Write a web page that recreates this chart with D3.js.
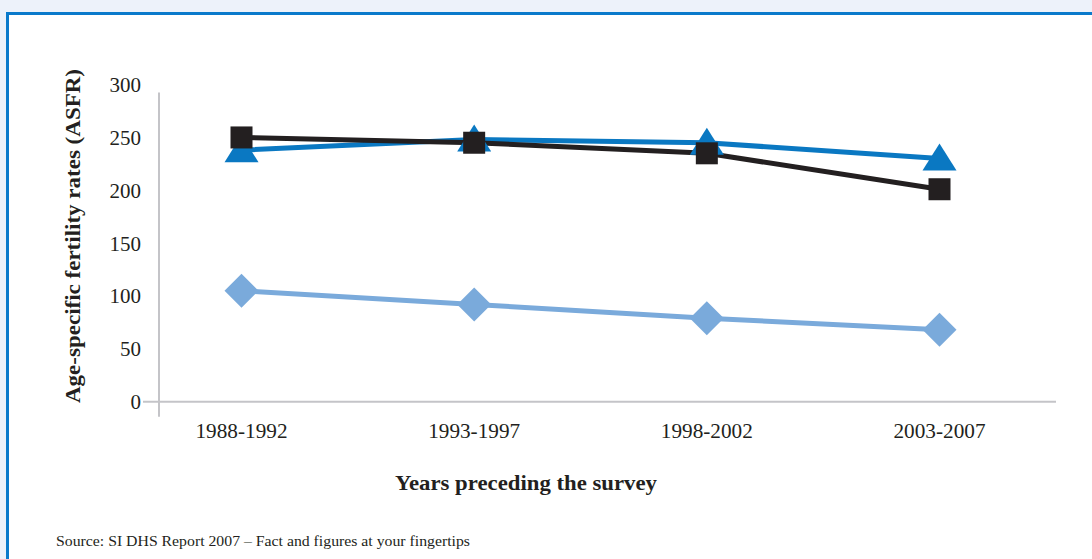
<!DOCTYPE html>
<html>
<head>
<meta charset="utf-8">
<script src="https://cdn.jsdelivr.net/npm/d3@7"></script>
<style>
  html, body { margin: 0; padding: 0; background: #edf2fa; }
  svg { display: block; }
  text { font-family: "Liberation Serif", "DejaVu Serif", serif; fill: #231f20; }
</style>
</head>
<body>
<svg id="chart" width="1092" height="559"></svg>
<script>
// Age-specific fertility rates by period
const periods = ["1988-1992", "1993-1997", "1998-2002", "2003-2007"];
const seriesSquare = [250, 245, 235, 201];
const seriesTriangle = [238, 248, 245, 230];
const seriesDiamond = [105, 92, 79, 68];
const yTicks = [0, 50, 100, 150, 200, 250, 300];

const svg = d3.select("#chart");

// page panel with blue rule on top and left
svg.append("rect").attr("x", 7).attr("y", 13).attr("width", 1092).attr("height", 559).attr("fill", "#ffffff");
svg.append("line").attr("x1", 7.5).attr("x2", 7.5).attr("y1", 12).attr("y2", 559)
  .attr("stroke", "#0a7acb").attr("stroke-width", 3);
svg.append("line").attr("x1", 6).attr("x2", 1092).attr("y1", 13.5).attr("y2", 13.5)
  .attr("stroke", "#0a7acb").attr("stroke-width", 3);

const x = d3.scalePoint().domain(periods).range([241.5, 939.5]);
const y = d3.scaleLinear().domain([0, 300]).range([401.7, 84.6]);

const axisColor = "#c4c4c8";
// vertical axis line
svg.append("line").attr("x1", 159).attr("x2", 159).attr("y1", y(300) + 8).attr("y2", y(0) + 15)
  .attr("stroke", axisColor).attr("stroke-width", 2);
// horizontal axis line (with short tick to the left at 0)
svg.append("line").attr("x1", 143).attr("x2", 1056).attr("y1", y(0)).attr("y2", y(0))
  .attr("stroke", axisColor).attr("stroke-width", 2);

// y tick labels
svg.append("g").selectAll("text").data(yTicks).join("text")
  .attr("x", 141).attr("y", d => y(d)).attr("dy", "0.35em")
  .attr("text-anchor", "end").attr("font-size", 21).attr("fill", "#333")
  .text(d => d);

// x tick labels
svg.append("g").selectAll("text").data(periods).join("text")
  .attr("x", d => x(d)).attr("y", 431).attr("dy", "0.35em")
  .attr("text-anchor", "middle").attr("font-size", 21).attr("fill", "#333")
  .attr("textLength", 92).attr("lengthAdjust", "spacingAndGlyphs")
  .text(d => d);

// axis titles
svg.append("text").attr("transform", "translate(73,236) rotate(-90)")
  .attr("text-anchor", "middle").attr("dy", "0.35em")
  .attr("font-size", 21).attr("font-weight", "bold")
  .attr("textLength", 334).attr("lengthAdjust", "spacingAndGlyphs")
  .text("Age-specific fertility rates (ASFR)");
svg.append("text").attr("x", 526).attr("y", 483).attr("dy", "0.35em")
  .attr("text-anchor", "middle").attr("font-size", 21).attr("font-weight", "bold")
  .attr("textLength", 262).attr("lengthAdjust", "spacingAndGlyphs")
  .text("Years preceding the survey");

// source note
svg.append("text").attr("x", 56).attr("y", 541).attr("dy", "0.35em")
  .attr("font-size", 15).attr("fill", "#333")
  .attr("textLength", 414).attr("lengthAdjust", "spacingAndGlyphs")
  .text("Source: SI DHS Report 2007 – Fact and figures at your fingertips");

const line = d3.line().x((d, i) => x(periods[i])).y(d => y(d));

const series = [
  { values: seriesDiamond, color: "#7aaadb", shape: "diamond" },
  { values: seriesTriangle, color: "#0a78c2", shape: "triangle" },
  { values: seriesSquare, color: "#231f20", shape: "square" }
];

series.forEach(s => {
  svg.append("path").datum(s.values).attr("d", line)
    .attr("fill", "none").attr("stroke", s.color).attr("stroke-width", 5);
});

series.forEach(s => {
  const g = svg.append("g");
  s.values.forEach((v, i) => {
    const cx = x(periods[i]), cy = y(v);
    if (s.shape === "square") {
      g.append("rect").attr("x", cx - 11).attr("y", cy - 11).attr("width", 22).attr("height", 22).attr("fill", s.color);
    } else if (s.shape === "triangle") {
      g.append("path").attr("d", `M${cx},${cy - 15}L${cx + 17},${cy + 12}L${cx - 17},${cy + 12}Z`).attr("fill", s.color);
    } else {
      g.append("path").attr("d", `M${cx},${cy - 17}L${cx + 17},${cy}L${cx},${cy + 17}L${cx - 17},${cy}Z`).attr("fill", s.color);
    }
  });
});
</script>
</body>
</html>
